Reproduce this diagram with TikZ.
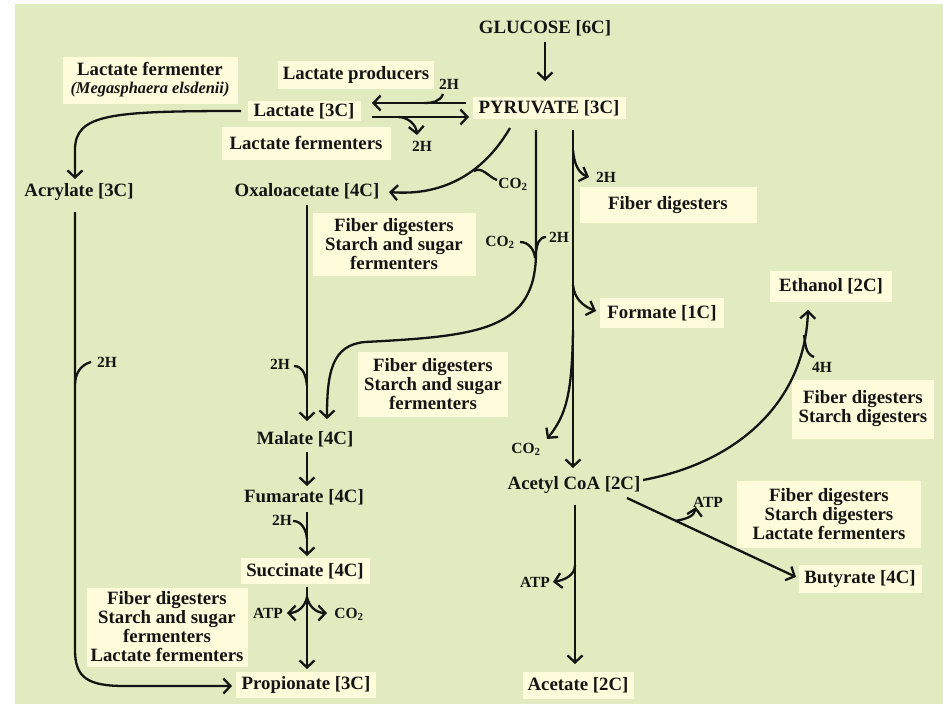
\documentclass[tikz,border=0pt]{standalone}
\usepackage{fontspec}
\setmainfont{Liberation Serif}
\usetikzlibrary{arrows.meta}
\definecolor{bggreen}{RGB}{226,235,192}
\definecolor{boxyel}{RGB}{255,252,220}
\definecolor{ink}{RGB}{20,20,20}
\tikzset{
  main/.style={font=\fontsize{18.8}{19}\selectfont\bfseries, text=ink, align=center, inner sep=0pt},
  bx/.style={main, fill=boxyel},
  sm/.style={font=\fontsize{15.5}{16}\selectfont\bfseries, text=ink, inner sep=0pt},
  ln/.style={draw=ink, line width=2.3pt},
  arr/.style={ln, -{Straight Barb[length=7pt,width=15pt]}},
}
\begin{document}
\begin{tikzpicture}[x=1pt,y=-1pt]
\useasboundingbox (0,0) rectangle (943,704);
\fill[white] (0,0) rectangle (943,704);
\fill[bggreen] (15,4) rectangle (943,704);

% ---------- nodes ----------
\node[main] (glucose) at (545,28) {GLUCOSE [6C]};
\node[bx, minimum width=153, minimum height=22] (pyr) at (549,108) {PYRUVATE [3C]};
\node[bx, minimum width=113, minimum height=20] (lac) at (304,111) {Lactate [3C]};
\node[bx, minimum width=156, minimum height=28] (lprod) at (356,75) {Lactate producers};
\node[bx, minimum width=169, minimum height=33] (lferm) at (306,143) {Lactate fermenters};
\node[bx, minimum width=175, minimum height=47] (meg) at (150,80) {Lactate fermenter\\[-1pt]{\itshape\fontsize{16.4}{18}\selectfont (Megasphaera elsdenii)}};
\node[main] (acry) at (79,192) {Acrylate [3C]};
\node[main] (oxa) at (307,191) {Oxaloacetate [4C]};
\node[bx, minimum width=163, minimum height=63] (fd1) at (394,244) {Fiber digesters\\Starch and sugar\\fermenters};
\node[bx, minimum width=177, minimum height=36] (fd0) at (668,205) {Fiber digesters};
\node[bx, minimum width=124, minimum height=30] (form) at (662,313) {Formate [1C]};
\node[bx, minimum width=122, minimum height=31] (eth) at (831,286) {Ethanol [2C]};
\node[bx, minimum width=150, minimum height=65] (fd2) at (433,384) {Fiber digesters\\Starch and sugar\\fermenters};
\node[bx, minimum width=142, minimum height=59] (fd3) at (863,409) {Fiber digesters\\Starch digesters};
\node[main] (mal) at (305,439) {Malate [4C]};
\node[main] (acoa) at (574,485) {Acetyl CoA [2C]};
\node[main] (fum) at (304,497) {Fumarate [4C]};
\node[bx, minimum width=184, minimum height=67] (fd4) at (829,514) {Fiber digesters\\Starch digesters\\Lactate fermenters};
\node[bx, minimum width=129, minimum height=26] (succ) at (305,571) {Succinate [4C]};
\node[bx, minimum width=123, minimum height=28] (but) at (860,579) {Butyrate [4C]};
\node[bx, minimum width=161, minimum height=79] (fd5) at (167,627) {Fiber digesters\\Starch and sugar\\fermenters\\Lactate fermenters};
\node[bx, minimum width=140, minimum height=26] (prop) at (306,685) {Propionate [3C]};
\node[bx, minimum width=111, minimum height=27] (acet) at (578,685) {Acetate [2C]};

% small side labels
\node[sm] (h1) at (449,84) {2H};
\node[sm] (h2) at (422,146) {2H};
\node[sm] (c1) at (513,184) {CO\textsubscript{2}};
\node[sm] (c2) at (500,242) {CO\textsubscript{2}};
\node[sm] (h3) at (559,237) {2H};
\node[sm] (h4) at (606,177) {2H};
\node[sm] (h5) at (107,362) {2H};
\node[sm] (h6) at (280,364) {2H};
\node[sm] (c3) at (526,449) {CO\textsubscript{2}};
\node[sm] (h7) at (822,367) {4H};
\node[sm] (a1) at (708,502) {ATP};
\node[sm] (a2) at (535,582) {ATP};
\node[sm] (h8) at (282,520) {2H};
\node[sm] (a3) at (268,613) {ATP};
\node[sm] (c4) at (349,614) {CO\textsubscript{2}};

% ---------- connector end points ----------
\coordinate (gS) at (545,42);   \coordinate (pN) at (545,81);
\coordinate (pW1) at (466,103); \coordinate (lE1) at (372,103);
\coordinate (lE2) at (372,117); \coordinate (pW2) at (469,117);
\coordinate (pS1) at (510,128); \coordinate (oE) at (389,192);
\coordinate (pS2) at (536,130); \coordinate (mN2) at (327,419);
\coordinate (pS3) at (573,130); \coordinate (aN) at (573,468);
\coordinate (oS) at (307,205);  \coordinate (mN1) at (307,421);
\coordinate (mS) at (307,452);  \coordinate (fN) at (307,486);
\coordinate (fS) at (307,512);  \coordinate (sN) at (307,556);
\coordinate (sS) at (307,587);  \coordinate (prN) at (307,669);
\coordinate (lW) at (241,111);  \coordinate (acN) at (75,179);
\coordinate (acS) at (75,212);  \coordinate (prW) at (232,686);
\coordinate (aE) at (643,480);  \coordinate (eS) at (808,310);
\coordinate (aSE) at (627,498); \coordinate (bW) at (796,577);
\coordinate (aS) at (575,505);  \coordinate (atN) at (575,664);

% ---------- main connectors ----------
\draw[arr] (gS) -- (pN);
\draw[arr] (pW1) -- (lE1);
\draw[arr] (lE2) -- (pW2);
\draw[arr] (pS1) .. controls (482,176) and (440,196) .. (oE);
\draw[arr] (pS2) -- (536,252) .. controls (536,330) and (480,336) .. (365,342) .. controls (332,345) and (327,372) .. (mN2);
\draw[arr] (pS3) -- (aN);
\draw[arr] (oS) -- (mN1);
\draw[arr] (mS) -- (fN);
\draw[arr] (fS) -- (sN);
\draw[arr] (sS) -- (prN);
\draw[arr] (lW) .. controls (110,111) and (75,114) .. (75,150) -- (acN);
\draw[arr] (acS) -- (75,650) .. controls (75,678) and (88,686) .. (125,686) -- (prW);
\draw[arr] (aE) .. controls (740,462) and (805,400) .. (eS);
\draw[arr] (aSE) -- (bW);
\draw[arr] (aS) -- (atN);

% ---------- side branches ----------
\draw[ln] (443,94) to[out=-110,in=0] (424,103);
\draw[arr] (398,117) to[out=0,in=95] (417,135);
\draw[ln] (474,171) to[out=30,in=160] (497,180);
\draw[ln] (520,242) to[out=0,in=95] (535,258);
\draw[ln] (546,237) to[out=180,in=85] (536,252);
\draw[arr] (573,150) to[out=-85,in=160] (589,177);
\draw[arr] (573,285) to[out=-85,in=160] (596,311);
\draw[arr] (573,330) .. controls (572,395) and (566,415) .. (547,439);
\draw[ln] (91,362) to[out=195,in=88] (75,384);
\draw[ln] (294,366) to[out=0,in=95] (307,386);
\draw[ln] (804,335) to[out=-80,in=160] (814,357);
\draw[arr] (675,521) to[out=10,in=-100] (696,507);
\draw[arr] (575,565) to[out=-90,in=10] (553,582);
\draw[ln] (293,521) to[out=0,in=95] (307,539);
\draw[arr] (307,597) to[out=-100,in=0] (287,613);
\draw[arr] (307,597) to[out=-80,in=180] (327,613);
\end{tikzpicture}
\end{document}
